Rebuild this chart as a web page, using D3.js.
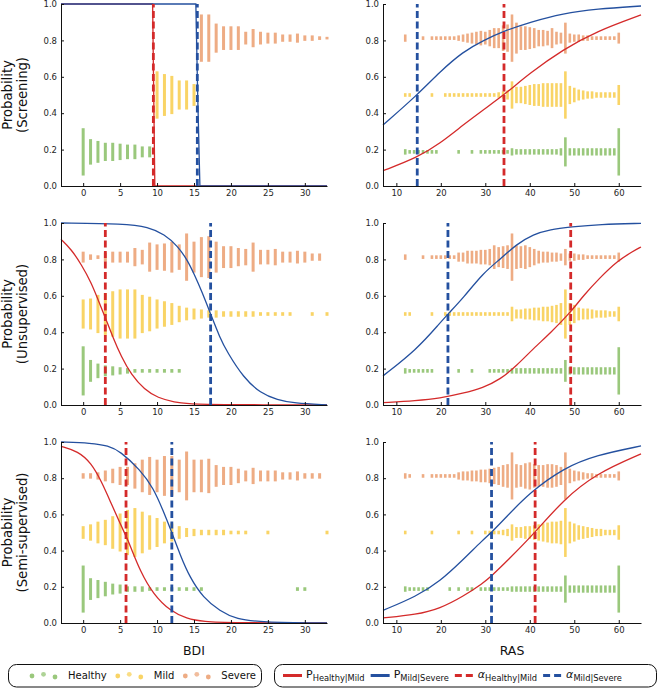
<!DOCTYPE html>
<html>
<head>
<meta charset="utf-8">
<script src="https://cdn.jsdelivr.net/npm/d3@7"></script>
<style>
  body { margin: 0; background: #fff; }
  svg { display: block; font-family: "DejaVu Sans", sans-serif; }
</style>
</head>
<body>
<svg id="chart" width="658" height="689"></svg>
<script>
// ---- data ----
const CLASSES = ['Healthy', 'Mild', 'Severe'];
const CLASS_CENTER = [0.1875, 0.5, 0.8125];
const BDI_SCORES = d3.range(0, 34);   // 0..33
const RAS_SCORES = d3.range(12, 61);  // 12..60
const BDI_TICKS = [0, 5, 10, 15, 20, 25, 30];
const RAS_TICKS = [10, 20, 30, 40, 50, 60];
const PROB_TICKS = [0, 0.2, 0.4, 0.6, 0.8, 1.0];
const ROW_NAMES = ['(Screening)', '(Unsupervised)', '(Semi-supervised)'];

// strip bar heights per score, in hundredths of probability
const screeningBdiHealthy = [26,14,12,10,10,9,8,8,6,6, 0,0,0,0,0,0,0,0,0,0, 0,0,0,0,0,0,0,0,0,0, 0,0,0,0];
const screeningBdiMild    = [0,0,0,0,0,0,0,0,0,0, 26,23,21,16,16,12,0,0,0,0, 0,0,0,0,0,0,0,0,0,0, 0,0,0,0];
const screeningBdiSevere  = [0,0,0,0,0,0,0,0,0,0, 0,0,0,0,0,0,26,26,16,13, 13,13,7,10,7,6,6,4,4,5, 3,3,2,1];

const unsupBdiHealthy = [27,12,8,6,5,4,3,2,2,2, 2,2,2,2,0,0,0,0,0,0, 0,0,0,0,0,0,0,0,0,0, 0,0,0,0];
const unsupBdiMild    = [16,17,21,23,25,27,27,27,21,19, 16,14,12,9,7,6,5,4,4,3, 3,3,3,3,2,2,2,2,2,0, 0,2,0,2];
const unsupBdiSevere  = [6,3,2,5,6,6,6,10,8,16, 14,15,17,14,26,17,22,23,17,12, 12,10,9,16,8,8,9,6,6,7, 6,4,4,0];

const semiBdiHealthy = [26,12,10,8,6,5,3,3,3,2, 2,2,2,2,2,2,2,0,0,0, 0,0,0,0,0,0,0,0,0,2, 2,0,0,0];
const semiBdiMild    = [7,9,12,14,18,21,25,27,23,19, 16,12,10,7,5,4,3,3,3,3, 2,2,2,0,0,2,0,0,0,0, 0,0,0,2];
const semiBdiSevere  = [3,3,4,6,8,10,10,14,18,21, 18,22,22,18,27,18,18,19,12,10, 10,8,6,9,6,6,6,4,4,5, 3,3,3,0];

const screeningRasHealthy = [3,2,2,2,2,2,2,2,0,0, 0,0,2,0,0,2,0,2,2,2, 2,2,2,2,4,3,3,3,3,3, 3,3,3,3,3,4,16,4,4,4, 4,4,4,4,4,4,4,4,26];
const screeningRasMild    = [2,2,0,0,0,0,2,0,0,2, 2,2,2,2,2,2,2,2,2,2, 2,3,4,5,15,9,9,10,11,12, 12,13,13,13,13,13,26,10,8,6, 5,4,4,3,3,3,3,3,11];
const screeningRasSevere  = [4,0,0,0,2,0,2,2,2,2, 2,2,3,4,5,6,7,8,7,9, 11,11,14,15,26,17,13,13,12,11, 9,9,8,11,7,6,17,5,4,4, 3,3,2,2,2,2,2,2,6];

const unsupRasHealthy = [3,2,2,2,2,2,2,0,0,0, 0,0,2,0,0,2,0,0,0,2, 2,2,2,2,3,3,3,3,3,3, 3,3,3,3,3,3,12,4,4,4, 4,4,4,4,4,4,4,4,26];
const unsupRasMild    = [2,2,0,0,0,0,2,0,0,2, 2,2,2,2,2,2,2,2,2,2, 2,2,2,2,8,5,5,6,6,7, 7,8,8,9,10,12,27,12,10,7, 6,6,5,4,4,4,3,3,8];
const unsupRasSevere  = [3,0,0,0,2,0,2,2,2,2, 2,2,5,5,7,7,7,8,8,9, 13,11,12,13,26,13,12,13,11,9, 7,6,6,5,5,4,9,4,4,3, 3,2,2,2,2,2,2,2,5];

const semiRasHealthy = [3,2,2,2,2,2,0,0,0,0, 2,0,2,0,2,2,0,2,2,2, 2,2,2,2,3,3,3,3,3,3, 3,3,3,3,3,3,15,4,4,4, 4,4,4,4,4,4,4,4,26];
const semiRasMild    = [2,0,0,0,0,0,2,0,0,0, 0,0,2,0,0,2,0,0,2,2, 2,2,3,4,9,6,6,7,7,8, 9,10,11,12,12,13,27,12,10,8, 7,6,5,4,4,3,3,3,8];
const semiRasSevere  = [3,2,0,0,2,0,2,2,2,2, 2,2,4,5,5,6,6,7,7,8, 9,10,12,13,26,13,12,14,15,13, 12,12,13,13,12,10,26,8,6,5, 4,3,3,2,2,2,2,2,5];

// probability curves: [score, probability]
const screeningBdiPHM = [[-3,1],[9.4,1],[9.7,0],[33,0]];
const screeningBdiPMS = [[-3,1],[15.25,1],[15.5,0.5],[15.8,0],[33,0]];
const screeningRasPHM = [[7,0.084],[14.7,0.156],[19.8,0.234],[25,0.335],[29.5,0.418],[34.2,0.5],[40,0.62],[47.5,0.75],[55,0.85],[65,0.94]];
const screeningRasPMS = [[7,0.335],[14.7,0.5],[19.8,0.628],[25,0.738],[29.5,0.8],[34.8,0.857],[40,0.9],[47.5,0.949],[55,0.973],[65,0.989]];

const unsupBdiPHM = [[-3,0.91],[-1.6,0.855],[-0.25,0.772],[1.1,0.672],[2,0.58],[3,0.48],[4.04,0.37],[5.16,0.265],[6.5,0.167],[8.3,0.084],[10.1,0.039],[12.4,0.015],[14.2,0.007],[17,0.002],[33,0]];
const unsupBdiPMS = [[-3,1],[5.6,0.996],[8.8,0.978],[11,0.938],[12.8,0.873],[14.2,0.79],[15,0.72],[16,0.63],[17.25,0.5],[18.5,0.37],[19.5,0.29],[21.7,0.15],[24,0.065],[26.3,0.028],[28.5,0.01],[33,0.001]];
const unsupRasPHM = [[7,0.013],[14.5,0.024],[19.8,0.037],[25,0.064],[29.5,0.095],[33.3,0.14],[37,0.215],[40.8,0.31],[44.6,0.395],[49.2,0.51],[52,0.6],[55.8,0.7],[59.6,0.79],[63.3,0.846],[65,0.868]];
const unsupRasPMS = [[7,0.16],[14.5,0.303],[19.8,0.45],[21.6,0.5],[25,0.587],[29.5,0.725],[33.3,0.8],[37,0.883],[40.8,0.938],[44.6,0.965],[49.2,0.978],[55.8,0.993],[65,0.998]];

const semiBdiPHM = [[-3,0.976],[-0.7,0.949],[1.1,0.884],[2.5,0.78],[3.8,0.66],[5,0.55],[5.8,0.48],[6.3,0.434],[7.7,0.287],[9.5,0.158],[11.8,0.066],[14,0.024],[16.3,0.007],[20,0.001],[33,0]];
const semiBdiPMS = [[-3,1],[1.1,0.994],[3.4,0.98],[5,0.949],[7.7,0.847],[9.5,0.746],[10.85,0.618],[12,0.5],[13.1,0.379],[14.45,0.25],[16.25,0.14],[18.5,0.066],[20.8,0.02],[24,0.005],[33,0]];
const semiRasPHM = [[7,0.028],[14.5,0.046],[19.8,0.08],[25,0.147],[29.5,0.22],[31.4,0.26],[34.8,0.34],[41.2,0.5],[47.5,0.68],[55,0.827],[65,0.934]];
const semiRasPMS = [[7,0.07],[14.5,0.147],[19.8,0.23],[25,0.35],[29.5,0.46],[31.4,0.5],[34.8,0.588],[40,0.72],[47.5,0.855],[55,0.928],[65,0.978]];

// thresholds (alpha) per panel: [Healthy|Mild, Mild|Severe]
const screeningBdiAlpha = [9.5, 15.45];
const screeningRasAlpha = [34.2, 14.7];
const unsupBdiAlpha = [3.0, 17.25];
const unsupRasAlpha = [49.2, 21.6];
const semiBdiAlpha = [5.8, 12.0];
const semiRasAlpha = [41.2, 31.4];

// ---- style / layout ----
const CLASS_COLORS = ['#9ac87c', '#f9d466', '#eeac84'];
const RED = '#d42a2a';
const BLUE = '#24509f';
const COLS = [{ x0: 61, x1: 327 }, { x0: 383, x1: 641 }];
const ROWS = [{ y0: 4, y1: 186 }, { y0: 223, y1: 405 }, { y0: 442, y1: 623 }];

const BDI_AXIS = { scores: BDI_SCORES, domain: [-3, 33], ticks: BDI_TICKS, barWidth: 3, label: 'BDI' };
const RAS_AXIS = { scores: RAS_SCORES, domain: [7, 65], ticks: RAS_TICKS, barWidth: 2.6, label: 'RAS' };

const panels = [
  { row: 0, col: 0, axis: BDI_AXIS, strips: [screeningBdiHealthy, screeningBdiMild, screeningBdiSevere], curves: [screeningBdiPHM, screeningBdiPMS], alpha: screeningBdiAlpha, step: true },
  { row: 0, col: 1, axis: RAS_AXIS, strips: [screeningRasHealthy, screeningRasMild, screeningRasSevere], curves: [screeningRasPHM, screeningRasPMS], alpha: screeningRasAlpha },
  { row: 1, col: 0, axis: BDI_AXIS, strips: [unsupBdiHealthy, unsupBdiMild, unsupBdiSevere], curves: [unsupBdiPHM, unsupBdiPMS], alpha: unsupBdiAlpha },
  { row: 1, col: 1, axis: RAS_AXIS, strips: [unsupRasHealthy, unsupRasMild, unsupRasSevere], curves: [unsupRasPHM, unsupRasPMS], alpha: unsupRasAlpha },
  { row: 2, col: 0, axis: BDI_AXIS, strips: [semiBdiHealthy, semiBdiMild, semiBdiSevere], curves: [semiBdiPHM, semiBdiPMS], alpha: semiBdiAlpha },
  { row: 2, col: 1, axis: RAS_AXIS, strips: [semiRasHealthy, semiRasMild, semiRasSevere], curves: [semiRasPHM, semiRasPMS], alpha: semiRasAlpha }
];

const svg = d3.select('#chart');

function drawPanel(panel) {
  const col = COLS[panel.col];
  const row = ROWS[panel.row];
  const x = d3.scaleLinear().domain(panel.axis.domain).range([col.x0, col.x1]);
  const y = d3.scaleLinear().domain([0, 1]).range([row.y1, row.y0]);
  const g = svg.append('g');
  const bw = panel.axis.barWidth;

  panel.strips.forEach((spans, ci) => {
    const bars = panel.axis.scores
      .map((score, i) => ({ score, span: spans[i] / 100 }))
      .filter((d) => d.span > 0);
    const height = (d) => Math.max(y(0) - y(d.span), 2.6);
    g.append('g')
      .selectAll('rect')
      .data(bars)
      .join('rect')
      .attr('x', (d) => x(d.score) - bw / 2)
      .attr('width', bw)
      .attr('y', (d) => y(CLASS_CENTER[ci]) - height(d) / 2)
      .attr('height', height)
      .attr('fill', CLASS_COLORS[ci]);
  });

  // step-like screening curves stay straight, fitted curves get smoothed
  const line = d3.line()
    .x((d) => x(d[0]))
    .y((d) => y(d[1]))
    .curve(panel.step ? d3.curveLinear : d3.curveBasis);

  [RED, BLUE].forEach((color, i) => {
    g.append('path')
      .attr('d', line(panel.curves[i]))
      .attr('fill', 'none')
      .attr('stroke', color)
      .attr('stroke-width', 1.3);
  });

  [RED, BLUE].forEach((color, i) => {
    g.append('line')
      .attr('x1', x(panel.alpha[i]))
      .attr('x2', x(panel.alpha[i]))
      .attr('y1', y(0))
      .attr('y2', y(1))
      .attr('stroke', color)
      .attr('stroke-width', 2.8)
      .attr('stroke-dasharray', '7,3.5');
  });

  const xAxis = g.append('g')
    .attr('transform', `translate(0,${y(0)})`)
    .call(d3.axisBottom(x).tickValues(panel.axis.ticks).tickSizeInner(-3).tickSizeOuter(0).tickPadding(4));
  const yAxis = g.append('g')
    .attr('transform', `translate(${col.x0},0)`)
    .call(d3.axisLeft(y).tickValues(PROB_TICKS).tickFormat(d3.format('.1f')).tickSizeInner(-3).tickSizeOuter(0).tickPadding(4));

  [xAxis, yAxis].forEach((a) => {
    a.attr('font-family', '"DejaVu Sans", sans-serif').attr('font-size', 8.5);
    a.selectAll('text').attr('fill', '#262626');
    a.select('.domain').attr('stroke', '#111').attr('stroke-width', 1);
    a.selectAll('.tick line').attr('stroke', '#111');
  });
}

panels.forEach(drawPanel);

// y axis titles
ROWS.forEach((row, i) => {
  const cy = (row.y0 + row.y1) / 2;
  const t = svg.append('text')
    .attr('transform', `translate(0,${cy}) rotate(-90)`)
    .attr('text-anchor', 'middle')
    .attr('font-size', 13.2)
    .attr('fill', '#111');
  t.append('tspan').attr('x', 0).attr('y', 12).text('Probability');
  t.append('tspan').attr('x', 0).attr('y', 27).text(ROW_NAMES[i]);
});

// x axis titles
[BDI_AXIS, RAS_AXIS].forEach((axis, i) => {
  svg.append('text')
    .attr('x', (COLS[i].x0 + COLS[i].x1) / 2)
    .attr('y', 655)
    .attr('text-anchor', 'middle')
    .attr('font-size', 12.5)
    .attr('fill', '#111')
    .text(axis.label);
});

// ---- legends ----
const LEGEND_Y = 675.5;

const leftBox = svg.append('g');
leftBox.append('rect')
  .attr('x', 8.5).attr('y', 664.5).attr('width', 253).attr('height', 22.5)
  .attr('rx', 8).attr('fill', '#fff').attr('stroke', '#111').attr('stroke-width', 1);

const DOT_OFFSETS = [0.5, -1.2, 1.5];
let lx = 32;
CLASSES.forEach((name, ci) => {
  DOT_OFFSETS.forEach((dy, k) => {
    leftBox.append('circle')
      .attr('cx', lx + k * 11.5)
      .attr('cy', LEGEND_Y + dy)
      .attr('r', 2.4)
      .attr('fill', CLASS_COLORS[ci])
      .attr('opacity', k === 1 ? 0.8 : 1);
  });
  const t = leftBox.append('text')
    .attr('x', lx + 36)
    .attr('y', LEGEND_Y + 3.5)
    .attr('font-size', 10)
    .attr('fill', '#111')
    .text(name);
  lx += 36 + t.node().getComputedTextLength() + 11;
});

const rightBox = svg.append('g');
rightBox.append('rect')
  .attr('x', 274.5).attr('y', 664.5).attr('width', 382).attr('height', 22.5)
  .attr('rx', 8).attr('fill', '#fff').attr('stroke', '#111').attr('stroke-width', 1);

const lineItems = [
  { color: RED, dash: null, sym: 'P', sub: 'Healthy|Mild', italic: false },
  { color: BLUE, dash: null, sym: 'P', sub: 'Mild|Severe', italic: false },
  { color: RED, dash: '7,4', sym: 'α', sub: 'Healthy|Mild', italic: true },
  { color: BLUE, dash: '7,4', sym: 'α', sub: 'Mild|Severe', italic: true }
];
let rx = 283;
lineItems.forEach((item) => {
  rightBox.append('line')
    .attr('x1', rx).attr('x2', rx + 19)
    .attr('y1', LEGEND_Y).attr('y2', LEGEND_Y)
    .attr('stroke', item.color)
    .attr('stroke-width', 3)
    .attr('stroke-dasharray', item.dash);
  const t = rightBox.append('text')
    .attr('x', rx + 23)
    .attr('y', LEGEND_Y + 2)
    .attr('fill', '#111');
  t.append('tspan')
    .attr('font-size', 11)
    .attr('font-style', item.italic ? 'italic' : null)
    .text(item.sym);
  t.append('tspan')
    .attr('font-size', 8.3)
    .attr('dy', 3)
    .text(item.sub);
  rx += 23 + t.node().getComputedTextLength() + 6;
});
</script>
</body>
</html>
